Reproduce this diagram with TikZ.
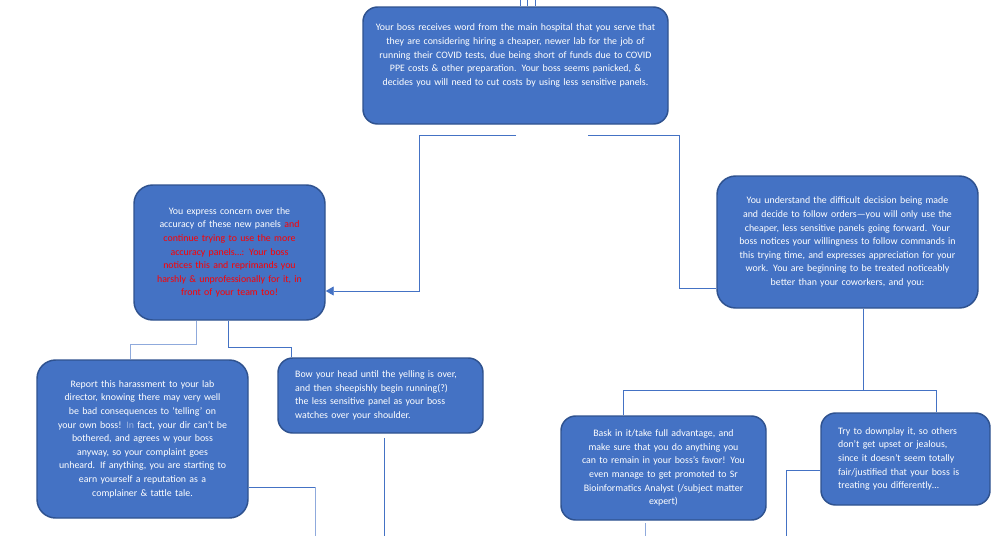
\documentclass[tikz,border=0pt]{standalone}
\usepackage{fontspec}
\setmainfont{Carlito}
\usetikzlibrary{arrows.meta}
\definecolor{boxfill}{HTML}{4472C4}
\definecolor{boxedge}{HTML}{2F528F}
\definecolor{conn}{HTML}{4472C4}
\definecolor{connlight}{HTML}{8FAADC}
\definecolor{redtxt}{HTML}{FF0000}
\begin{document}
\begin{tikzpicture}[x=0.75pt,y=-0.75pt,
  box/.style={draw=boxedge, fill=boxfill, line width=1.1pt, rounded corners=11pt,
    text=white, font=\fontsize{7.4}{10.2}\selectfont, align=center, inner sep=2pt},
  bigbox/.style={box, rounded corners=14pt},
  leftbox/.style={box, align=left, inner xsep=12.75pt},
  link/.style={draw=conn, line width=0.7pt},
  linklight/.style={draw=connlight, line width=0.7pt},
  tip/.style={-{Triangle[length=6pt,width=6.75pt]}}]
\useasboundingbox (0,0) rectangle (997,536);

% ---------- boxes ----------
\node[box, minimum width=228.75pt, minimum height=87.75pt, text width=224pt, text depth=57pt] (top) at (515.5,65.5)
{Your boss  receives word from the main hospital  that you serve that\\
they are considering  hiring a cheaper, newer lab for the job of\\
running their COVID tests, due being short of funds due to COVID\\
PPE costs \& other preparation.  Your boss seems panicked,  \&\\
decides  you will need to cut costs by using less sensitive  panels.};

\node[bigbox, minimum width=143.25pt, minimum height=101.25pt, text width=138pt] (L) at (229.5,252.5)
{You express concern over the\\
accuracy of these new panels  \textcolor{redtxt}{and}\\
\textcolor{redtxt}{continue  trying to use the more}\\
\textcolor{redtxt}{accuracy panels\dots: Your boss}\\
\textcolor{redtxt}{notices this and reprimands you}\\
\textcolor{redtxt}{harshly \& unprofessionally  for it, in}\\
\textcolor{redtxt}{front of your team too!}};

\node[bigbox, minimum width=195.75pt, minimum height=99pt, text width=190pt] (R) at (847.5,242)
{You understand  the difficult  decision  being made\\
and decide  to follow  orders---you will only use the\\
cheaper, less sensitive  panels going forward. Your\\
boss notices  your willingness  to follow  commands  in\\
this trying time, and expresses appreciation  for your\\
work. You are beginning  to be treated noticeably\\
better  than your coworkers, and you:};

\node[bigbox, minimum width=158.25pt, minimum height=118.5pt, text width=153pt] (LL) at (142.5,439)
{Report  this harassment  to your lab\\
director,  knowing  there may very well\\
be bad consequences   to `telling'  on\\
your own boss! \textcolor{white!45!boxfill}{In} fact, your dir can't be\\
bothered,  and agrees w your boss\\
anyway, so your complaint  goes\\
unheard.  If anything,  you are starting  to\\
earn yourself a reputation  as a\\
complainer  \& tattle  tale.};

\node[leftbox, minimum width=153.75pt, minimum height=56.25pt, text width=128pt] (LR) at (380.5,395.5)
{Bow your head until  the yelling is over,\\
and then sheepishly  begin  running(?)\\
the less sensitive  panel as your boss\\
watches  over your shoulder.};

\node[box, minimum width=153.75pt, minimum height=78pt, text width=148pt] (B1) at (663.5,468)
{Bask in it/take  full advantage,  and\\
make sure that you  do anything  you\\
can to remain in your boss's favor! You\\
even manage to get promoted  to Sr\\
Bioinformatics   Analyst (/subject  matter\\
expert)};

\node[leftbox, minimum width=126.75pt, minimum height=69pt, text width=101pt] (B2) at (905.5,459)
{Try to downplay  it, so others\\
don't  get upset or jealous,\\
since it doesn't  seem totally\\
fair/justified  that your boss is\\
treating  you differently\dots};

% ---------- connector points ----------
\coordinate (s1) at (520,0);
\coordinate (s2) at (527,0);
\coordinate (s3) at (535,0);
\coordinate (tl) at (516,135);
\coordinate (tlb) at (419,135);
\coordinate (tlc) at (419,291);
\coordinate (tr) at (588,135);
\coordinate (trb) at (679,135);
\coordinate (trc) at (679,288);
\coordinate (la) at (196,344);
\coordinate (lb) at (130,344);
\coordinate (ra) at (228,347);
\coordinate (rb) at (291,347);
\coordinate (ja) at (863,390);
\coordinate (jb) at (623,390);
\coordinate (jc) at (936,390);
\coordinate (ea) at (315,487);
\coordinate (eb) at (315,536);
\coordinate (fa) at (384,438);
\coordinate (fb) at (384,536);
\coordinate (ga) at (645,523);
\coordinate (gb) at (645,536);
\coordinate (ha) at (786,470);
\coordinate (hb) at (786,536);

% ---------- connectors ----------
\draw[link] (s1) -- (top.north -| s1);
\draw[link] (s2) -- (top.north -| s2);
\draw[link] (s3) -- (top.north -| s3);
\draw[link, tip] (tl) -- (tlb) -- (tlc) -- (L.east |- tlc);
\draw[link] (tr) -- (trb) -- (trc) -- (R.west |- trc);
\draw[linklight] (L.south -| la) -- (la) -- (lb) -- (LL.north -| lb);
\draw[link] (L.south -| ra) -- (ra) -- (rb) -- (LR.north -| rb);
\draw[link] (R.south -| ja) -- (ja) -- (jb) -- (B1.north -| jb);
\draw[link] (ja) -- (jc) -- (B2.north -| jc);
\draw[link] (LL.east |- ea) -- (ea);
\draw[linklight] (ea) -- (eb);
\draw[link] (fa) -- (fb);
\draw[linklight] (ga) -- (gb);
\draw[link] (B2.west |- ha) -- (ha) -- (hb);
\end{tikzpicture}
\end{document}
